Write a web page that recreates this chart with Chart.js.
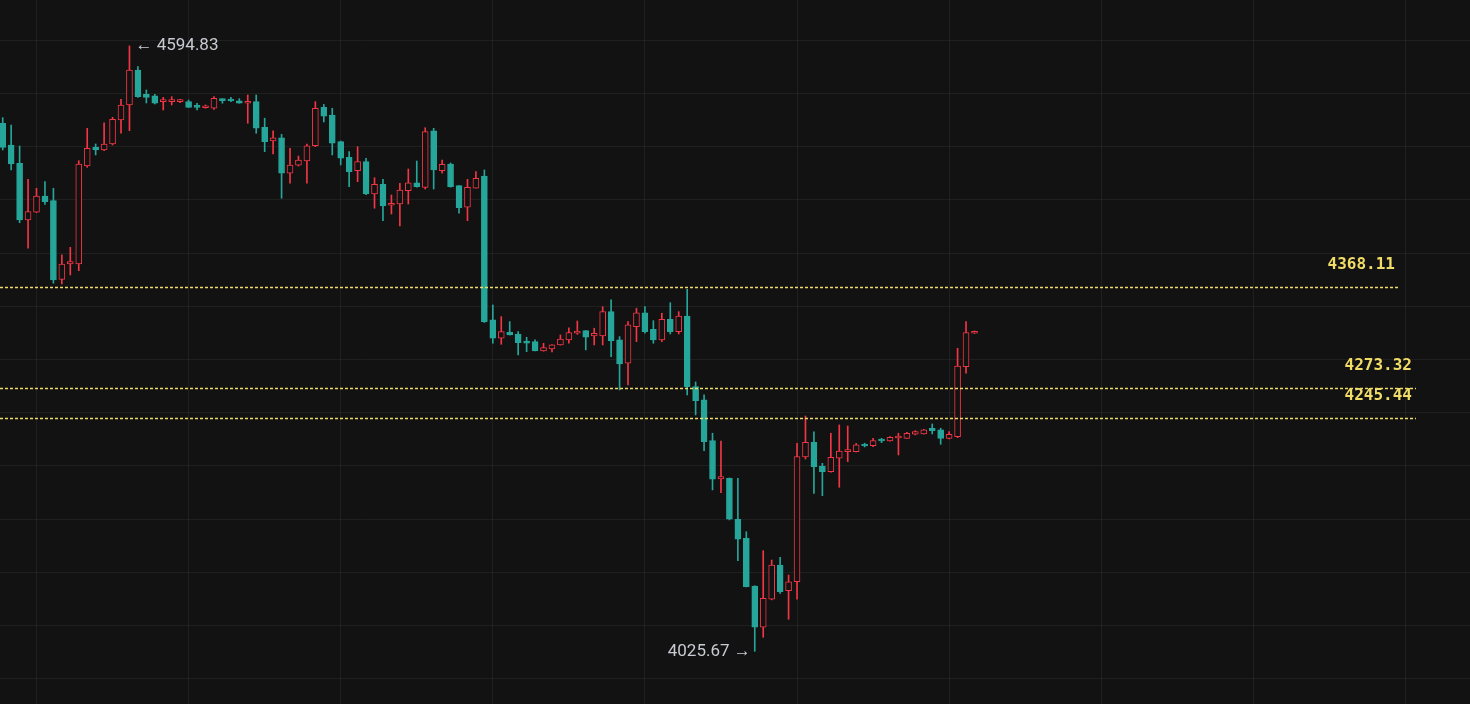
<!DOCTYPE html>
<html>
<head>
<meta charset="utf-8">
<script src="https://cdn.jsdelivr.net/npm/chart.js@4.4.1/dist/chart.umd.min.js"></script>
<style>
  html, body { margin: 0; padding: 0; background: #121212; overflow: hidden; }
  #wrap { width: 1470px; height: 704px; }
</style>
</head>
<body>
<div id="wrap"><canvas id="kline" width="1470" height="704"></canvas></div>
<script>
// OHLC per candle
const opens = [
  4522.1, 4501.7, 4484.5, 4431.2, 4438.4, 4453.7, 4449.3, 4375.4, 4389.8, 4389.8,
  4481.9, 4499.5, 4497.0, 4502.6, 4525.2, 4539.3, 4572.2, 4549.3, 4548.0, 4542.4,
  4542.4, 4542.4, 4542.4, 4538.3, 4536.7, 4536.2, 4545.2, 4544.6, 4543.3, 4540.9,
  4542.4, 4518.3, 4505.4, 4508.5, 4475.1, 4482.6, 4486.6, 4501.0, 4537.1, 4529.9,
  4504.8, 4490.1, 4477.5, 4486.0, 4455.6, 4464.7, 4445.0, 4446.2, 4458.7, 4466.2,
  4461.9, 4515.1, 4477.5, 4483.8, 4463.4, 4443.1, 4461.0, 4472.5, 4337.2, 4320.0,
  4325.6, 4324.0, 4317.4, 4316.8, 4308.0, 4309.9, 4313.7, 4318.4, 4324.7, 4327.1,
  4322.1, 4322.1, 4345.0, 4318.4, 4296.5, 4330.9, 4344.0, 4328.4, 4318.4, 4337.8,
  4326.2, 4340.9, 4274.5, 4262.0, 4223.7, 4187.7, 4188.4, 4149.8, 4131.9, 4087.1,
  4048.3, 4074.6, 4106.8, 4082.7, 4091.1, 4208.4, 4222.2, 4199.9, 4194.6, 4207.2,
  4213.4, 4213.4, 4220.6, 4219.0, 4225.3, 4223.4, 4226.2, 4225.9, 4229.7, 4230.0,
  4235.4, 4233.8, 4225.9, 4227.5, 4293.3, 4324.7
];
const highs = [
  4527.4, 4520.5, 4500.7, 4469.4, 4461.0, 4467.2, 4461.0, 4398.3, 4405.5, 4486.9,
  4517.4, 4502.6, 4522.6, 4527.7, 4544.6, 4594.83, 4575.5, 4553.4, 4549.3, 4546.5,
  4547.1, 4544.6, 4544.0, 4540.9, 4539.3, 4547.1, 4545.2, 4546.5, 4545.2, 4548.7,
  4548.7, 4526.8, 4515.1, 4511.7, 4498.6, 4491.3, 4502.6, 4542.4, 4539.8, 4536.2,
  4505.4, 4495.4, 4500.1, 4489.2, 4470.9, 4469.4, 4454.7, 4465.7, 4479.1, 4486.6,
  4517.9, 4517.4, 4487.6, 4484.8, 4463.4, 4469.4, 4476.6, 4478.2, 4351.3, 4340.3,
  4335.6, 4326.2, 4320.9, 4318.4, 4315.3, 4314.0, 4323.1, 4329.9, 4336.2, 4327.3,
  4329.4, 4349.7, 4356.0, 4321.5, 4335.6, 4348.2, 4349.7, 4336.5, 4343.5, 4353.4,
  4345.0, 4366.0, 4278.9, 4266.7, 4230.7, 4223.4, 4188.6, 4188.4, 4138.1, 4087.3,
  4120.3, 4111.5, 4114.1, 4097.4, 4221.3, 4246.9, 4231.9, 4202.4, 4230.7, 4238.5,
  4237.5, 4221.1, 4221.3, 4225.9, 4225.9, 4227.5, 4230.7, 4231.6, 4233.1, 4234.4,
  4239.4, 4235.4, 4232.2, 4310.6, 4335.6, 4326.8
];
const lows = [
  4497.0, 4478.2, 4428.6, 4404.6, 4438.0, 4445.9, 4371.7, 4371.0, 4379.5, 4383.5,
  4480.7, 4492.3, 4496.3, 4501.7, 4512.7, 4515.1, 4546.3, 4541.2, 4540.2, 4534.6,
  4539.3, 4541.5, 4537.1, 4534.6, 4536.2, 4535.2, 4540.9, 4542.4, 4540.9, 4522.1,
  4512.7, 4495.4, 4493.2, 4451.6, 4465.7, 4481.9, 4465.7, 4500.1, 4523.3, 4492.3,
  4482.9, 4462.5, 4467.2, 4455.0, 4442.2, 4430.5, 4436.8, 4425.5, 4446.2, 4462.0,
  4460.3, 4460.3, 4475.1, 4462.0, 4437.5, 4430.5, 4461.0, 4334.8, 4315.3, 4314.3,
  4323.0, 4304.3, 4307.4, 4308.0, 4307.8, 4307.1, 4313.5, 4315.3, 4323.7, 4309.0,
  4313.7, 4313.7, 4302.7, 4271.4, 4276.1, 4316.8, 4324.7, 4315.3, 4316.8, 4324.0,
  4324.0, 4266.7, 4247.9, 4214.3, 4177.4, 4174.8, 4149.2, 4110.9, 4086.2, 4025.67,
  4038.9, 4074.0, 4080.2, 4055.8, 4074.6, 4206.5, 4174.2, 4172.0, 4194.0, 4179.9,
  4204.0, 4213.1, 4217.8, 4218.1, 4221.8, 4223.2, 4210.3, 4225.8, 4229.1, 4229.8,
  4230.0, 4220.3, 4225.3, 4226.5, 4287.1, 4324.5
];
const closes = [
  4499.5, 4483.8, 4431.2, 4439.0, 4453.7, 4448.4, 4374.8, 4389.8, 4392.0, 4483.8,
  4498.6, 4497.0, 4502.6, 4525.8, 4539.3, 4572.2, 4547.1, 4546.5, 4540.9, 4544.0,
  4544.0, 4544.0, 4537.1, 4537.1, 4538.3, 4545.6, 4543.3, 4543.0, 4540.9, 4542.4,
  4517.4, 4504.8, 4508.5, 4475.1, 4482.9, 4487.6, 4501.0, 4536.2, 4528.7, 4503.3,
  4489.2, 4476.6, 4486.0, 4455.6, 4464.7, 4444.3, 4446.9, 4459.4, 4466.2, 4462.5,
  4514.2, 4478.2, 4483.5, 4462.5, 4442.7, 4461.9, 4470.4, 4335.6, 4320.0, 4326.2,
  4323.1, 4315.8, 4315.3, 4308.0, 4311.1, 4313.7, 4319.3, 4325.2, 4326.8, 4320.9,
  4324.7, 4345.0, 4317.4, 4295.8, 4332.5, 4344.0, 4326.2, 4318.4, 4337.8, 4326.2,
  4340.9, 4274.5, 4261.3, 4222.8, 4187.4, 4189.9, 4149.8, 4131.0, 4086.4, 4048.3,
  4075.5, 4106.8, 4081.7, 4091.1, 4208.7, 4222.2, 4199.3, 4194.6, 4208.1, 4214.0,
  4214.9, 4219.7, 4218.7, 4223.7, 4223.4, 4226.9, 4228.1, 4230.7, 4232.2, 4233.8,
  4233.1, 4225.9, 4229.7, 4293.9, 4325.2, 4326.2
];
const levels = [4368.11, 4273.32, 4245.44];
const priceGrid = [4000, 4050, 4100, 4150, 4200, 4250, 4300, 4350, 4400, 4450, 4500, 4550, 4600];
const timeGrid = [4, 22, 40, 58, 76, 94, 112, 130, 148, 166];

const BG = '#121212';
const UP = '#f23645';
const DOWN = '#26a69a';
const LEVEL = '#f0dc66';
const MARK = '#c8cbd2';

const isUp = closes.map((c, i) => c >= opens[i]);
const wicks = highs.map((h, i) => ({ x: i, y: [lows[i], h] }));
const bodies = opens.map((o, i) => ({ x: i, y: [o, closes[i]] }));

// dashed price levels, plus the max / min marks
const markers = {
  id: 'markers',
  afterDatasetsDraw(chart) {
    const ctx = chart.ctx;
    const xs = chart.scales.x;
    const ys = chart.scales.y;
    const labelRight = [1395, 1412, 1412];
    ctx.save();
    levels.forEach((lvl, i) => {
      const py = Math.round(ys.getPixelForValue(lvl)) + 0.5;
      ctx.strokeStyle = LEVEL;
      ctx.lineWidth = 1.3;
      ctx.setLineDash([3, 2]);
      ctx.beginPath();
      ctx.moveTo(0, py);
      ctx.lineTo(labelRight[i] + 4, py);
      ctx.stroke();
      ctx.setLineDash([]);
      ctx.fillStyle = LEVEL;
      ctx.font = 'bold 16px "DejaVu Sans Mono"';
      ctx.textAlign = 'right';
      ctx.textBaseline = 'middle';
      ctx.fillText(lvl.toFixed(2), labelRight[i], py - 23);
    });

    const hi = highs.indexOf(Math.max(...highs));
    const lo = lows.indexOf(Math.min(...lows));
    ctx.fillStyle = MARK;
    ctx.font = '17px Roboto';
    ctx.textBaseline = 'middle';
    ctx.textAlign = 'left';
    ctx.fillText('\u2190 ' + highs[hi].toFixed(2), xs.getPixelForValue(hi) + 6, ys.getPixelForValue(highs[hi]));
    ctx.textAlign = 'right';
    ctx.fillText(lows[lo].toFixed(2) + ' \u2192', xs.getPixelForValue(lo) - 4, ys.getPixelForValue(lows[lo]));
    ctx.restore();
  }
};

const bgFill = {
  id: 'bgFill',
  beforeDraw(chart) {
    const ctx = chart.ctx;
    ctx.save();
    ctx.fillStyle = BG;
    ctx.fillRect(0, 0, chart.width, chart.height);
    ctx.restore();
  }
};

new Chart(document.getElementById('kline'), {
  type: 'bar',
  data: {
    datasets: [
      {
        label: 'body',
        data: bodies,
        order: 0,
        grouped: false,
        barThickness: 6,
        minBarLength: 2,
        borderWidth: 1,
        borderSkipped: false,
        backgroundColor: isUp.map(u => u ? BG : DOWN),
        borderColor: isUp.map(u => u ? UP : DOWN)
      },
      {
        label: 'wick',
        data: wicks,
        order: 1,
        grouped: false,
        barThickness: 1,
        minBarLength: 1,
        borderWidth: 0,
        backgroundColor: isUp.map(u => u ? UP : DOWN)
      }
    ]
  },
  options: {
    responsive: false,
    animation: false,
    layout: { padding: 0 },
    plugins: {
      legend: { display: false },
      tooltip: { enabled: false }
    },
    scales: {
      x: {
        type: 'linear',
        offset: false,
        min: -0.32,
        max: 173.64,
        afterBuildTicks: (scale) => { scale.ticks = timeGrid.map(v => ({ value: v })); },
        ticks: { display: false },
        grid: { color: 'rgba(255,255,255,0.055)', drawTicks: false, offset: false },
        border: { display: false }
      },
      y: {
        min: 3976.14,
        max: 4637.98,
        afterBuildTicks: (scale) => { scale.ticks = priceGrid.map(v => ({ value: v })); },
        ticks: { display: false },
        grid: { color: 'rgba(255,255,255,0.055)', drawTicks: false },
        border: { display: false }
      }
    }
  },
  plugins: [bgFill, markers]
});
</script>
</body>
</html>
